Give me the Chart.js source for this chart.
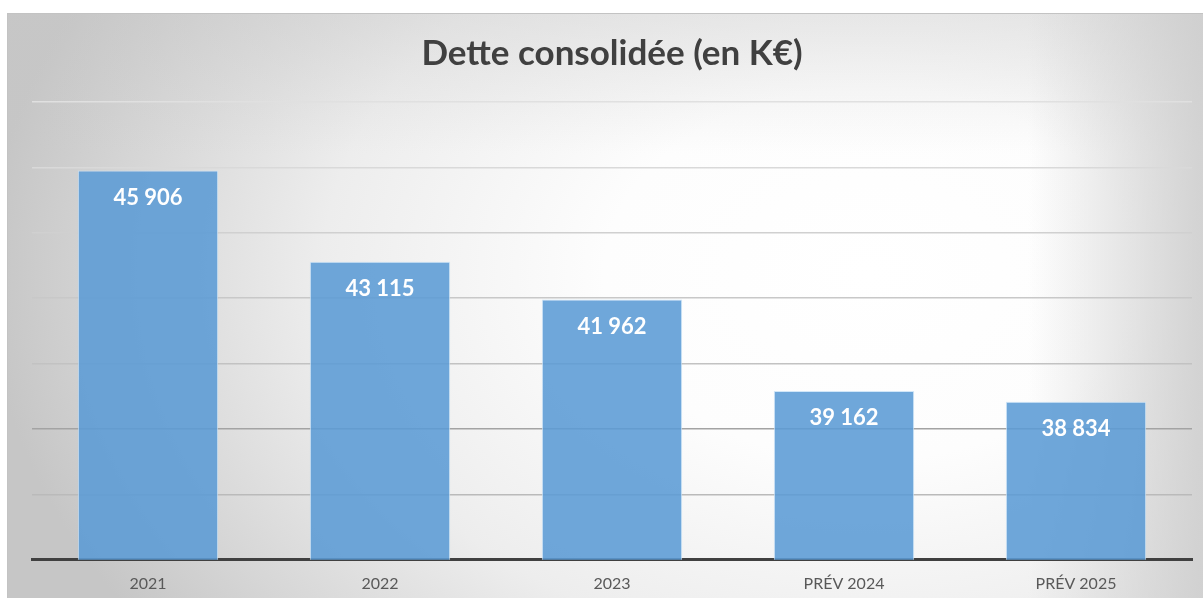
<!DOCTYPE html>
<html>
<head>
<meta charset="utf-8">
<script src="https://cdn.jsdelivr.net/npm/chart.js@4/dist/chart.umd.min.js"></script>
<style>
  html, body { margin: 0; padding: 0; width: 1203px; height: 598px; overflow: hidden; background: #ffffff; }
  #bg {
    position: absolute; left: 7px; top: 13px; width: 1220px; height: 620px;
    border-top: 1px solid #c3c3c3; border-left: 1px solid #c3c3c3;
    background:
      linear-gradient(to right, rgba(200,200,200,0) 0px, rgba(200,200,200,0) 1020px, rgba(205,205,205,0.85) 1190px),
      linear-gradient(to bottom, rgba(200,200,200,0.35) 0px, rgba(200,200,200,0) 140px),
      radial-gradient(ellipse 880px 620px at 860px 260px, #ffffff 0%, #fdfdfd 30%, #ededed 62%, #d6d6d6 85%, #c6c6c6 100%);
  }
  #wrap { position: absolute; left: 0; top: 0; width: 1203px; height: 598px; }
</style>
</head>
<body>
<div id="bg"></div>
<div id="wrap"><canvas id="c"></canvas></div>
<script>
const categories = ["2021", "2022", "2023", "PRÉV 2024", "PRÉV 2025"];
const detteValues = [45906, 43115, 41962, 39162, 38834];
const valueLabels = ["45 906", "43 115", "41 962", "39 162", "38 834"];
const titleText = "Dette consolidée (en K€)";
const yMin = 34000, yMax = 48000, yStep = 2000;
const gridColors = {36000: "#bababa", 38000: "#a3a3a3", 40000: "#c2c2c2", 42000: "#c8c8c8", 44000: "#d0d0d0", 46000: "#d9d9d9", 48000: "#e0e0e0"};

const barLabelPlugin = {
  id: "barLabels",
  afterDatasetsDraw(chart) {
    const ctx = chart.ctx;
    const meta = chart.getDatasetMeta(0);
    ctx.save();
    ctx.fillStyle = "#ffffff";
    ctx.font = "bold 22px Lato";
    ctx.textAlign = "center";
    ctx.textBaseline = "middle";
    meta.data.forEach((bar, i) => {
      ctx.fillText(valueLabels[i], bar.x, bar.y + 27);
    });
    ctx.restore();
  }
};

new Chart(document.getElementById("c"), {
  type: "bar",
  data: {
    labels: categories,
    datasets: [{
      data: detteValues,
      backgroundColor: "rgba(91,155,213,0.88)",
      borderColor: "rgba(205,228,247,0.9)",
      borderWidth: 1,
      barPercentage: 0.605,
      categoryPercentage: 1.0
    }]
  },
  options: {
    responsive: true,
    maintainAspectRatio: false,
    animation: false,
    layout: { padding: { top: 14, left: 32, right: 11, bottom: -9 } },
    plugins: {
      legend: { display: false },
      tooltip: { enabled: false },
      title: {
        display: true,
        text: titleText,
        color: "#404040",
        font: { family: "Lato", size: 35, weight: "bold" },
        padding: { top: 19, bottom: 27 }
      }
    },
    scales: {
      x: {
        grid: { display: false, drawTicks: false },
        border: { display: true, color: "#404040", width: 3 },
        ticks: { color: "#595959", font: { family: "Lato", size: 16 }, padding: 14 }
      },
      y: {
        min: yMin, max: yMax,
        grid: {
          drawTicks: false,
          lineWidth: 1.5,
          color: (c) => (c.tick && gridColors[c.tick.value]) ? gridColors[c.tick.value] : "rgba(0,0,0,0)"
        },
        border: { display: false },
        ticks: { display: false, stepSize: yStep }
      }
    }
  },
  plugins: [barLabelPlugin]
});
</script>
</body>
</html>
